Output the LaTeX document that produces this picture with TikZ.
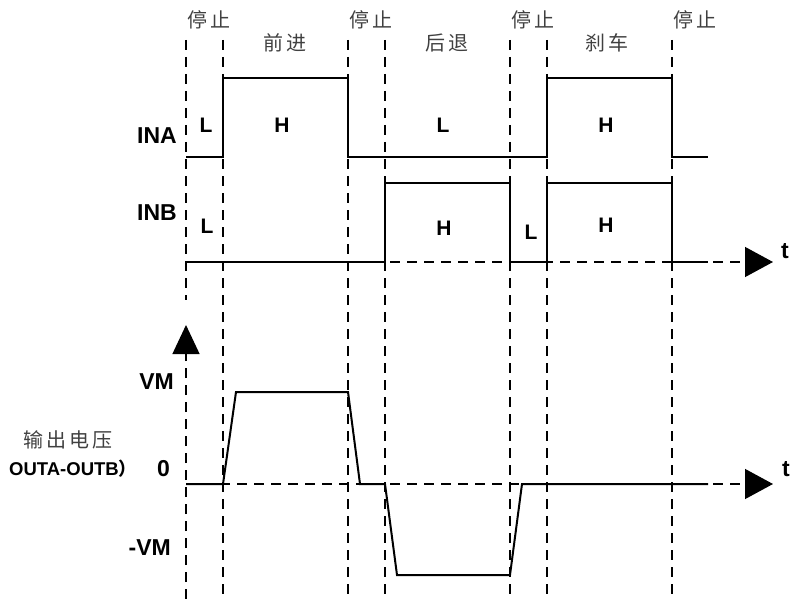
\documentclass[tikz,border=0pt]{standalone}
\usepackage{fontspec}
\setmainfont{Liberation Sans}
\newfontfamily\cjk{Noto Sans CJK SC}[LetterSpace=15]
\usetikzlibrary{arrows.meta}
\tikzset{wave/.style={line width=2pt, line join=miter},
  guide/.style={line width=1.3pt, dash pattern=on 10pt off 7pt},
  taxis/.style={guide, -{Triangle[length=28pt,width=30pt]}},
  lvl/.style={font=\fontsize{21}{21}\selectfont\bfseries, inner sep=0pt},
  sig/.style={font=\fontsize{23}{23}\selectfont\bfseries, inner sep=0pt, anchor=east},
  phase/.style={font=\cjk\fontsize{20}{20}\selectfont, text=black!75, inner sep=0pt}}

\begin{document}
\begin{tikzpicture}[x=1pt,y=-1pt]
\useasboundingbox (0,0) rectangle (795,599);
% time marks between the phases
\draw[guide] (186,40) -- (186,300);
\foreach \tx in {223,348,385,510,547,672}
  \draw[guide] (\tx,40) -- (\tx,599);
% phase names on top
\node[phase, anchor=west] (stopa) at (187,20) {停止};
\node[phase, anchor=west] (stopb) at (349,20) {停止};
\node[phase, anchor=west] (stopc) at (511,20) {停止};
\node[phase, anchor=west] (stopd) at (673,20) {停止};
\node[phase] (fwd) at (285,43) {前进};
\node[phase] (back) at (447,43) {后退};
\node[phase] (brake) at (607,43) {刹车};
% INA
\node[sig] (ina) at (177,136) {INA};
\draw[wave] (186,157) -- (223,157) -- (223,78) -- (348,78) -- (348,157)
  -- (547,157) -- (547,78) -- (672,78) -- (672,157) -- (708,157);
\node[lvl] (inal) at (206,125) {L};
\node[lvl] (inah) at (282,125) {H};
\node[lvl] (inal2) at (443,125) {L};
\node[lvl] (inah2) at (606,125) {H};
% INB, with the t axis under it
\node[sig] (inb) at (177,213) {INB};
\draw[taxis] (186,262) -- (773,262);
\node[lvl, font=\fontsize{23}{23}\selectfont\bfseries] (ta) at (785,251) {t};
\draw[wave] (186,262) -- (385,262) -- (385,183) -- (510,183) -- (510,262)
  -- (547,262) -- (547,183) -- (672,183) -- (672,262) -- (708,262);
\node[lvl] (inbl) at (207,226) {L};
\node[lvl] (inbh) at (444,228) {H};
\node[lvl] (inbl2) at (531,232) {L};
\node[lvl] (inbh2) at (606,225) {H};
% output voltage
\draw[guide, -{Triangle[length=29pt,width=27pt]}] (186,599) -- (186,325);
\draw[taxis] (186,484) -- (773,484);
\node[lvl, font=\fontsize{23}{23}\selectfont\bfseries] (tb) at (786,469) {t};
\node[sig] (vm) at (174,382) {VM};
\node[sig] (zero) at (170,469) {0};
\node[sig] (nvm) at (171,548) {-VM};
\node[phase] (out) at (68,440) {输出电压};
\node[inner sep=0pt, anchor=west, font=\fontsize{18.5}{18.5}\selectfont\bfseries] (outab) at (9,469)
  {OUTA-OUTB{\cjk\fontsize{18}{18}\selectfont ）}};
\draw[wave] (186,484) -- (223,484) -- (236,392) -- (348,392) -- (360,484)
  -- (385,484) -- (397,575) -- (510,575) -- (522,484) -- (708,484);
\end{tikzpicture}
\end{document}
